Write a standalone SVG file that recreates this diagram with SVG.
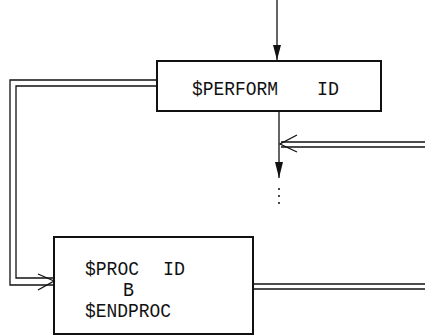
<svg xmlns="http://www.w3.org/2000/svg" width="425" height="336" viewBox="0 0 425 336">
<style>
.box{fill:none;stroke:#111;stroke-width:2}
.ln{fill:none;stroke:#111;stroke-width:1.3}
.t{font-family:"Liberation Mono","DejaVu Sans Mono",monospace;font-size:20px;fill:#111}
</style>
<rect width="425" height="336" fill="#fff"/>
<g id="connectors">
<line class="ln" x1="277" y1="0" x2="277" y2="61"/>
<path d="M273,45 L277,60 L281,45 Z" fill="#111"/>
<line class="ln" x1="279" y1="111" x2="279" y2="178"/>
<path d="M275,162 L279,178 L283,162 Z" fill="#111"/>
<circle cx="279" cy="189" r="1" fill="#111"/>
<circle cx="279" cy="196" r="1" fill="#111"/>
<circle cx="279" cy="203" r="1" fill="#111"/>
<polyline class="ln" points="157,80 10,80 10,285 53,285"/>
<polyline class="ln" points="157,86 16,86 16,278 53,278"/>
<polyline class="ln" points="38,274 54,281 38,290"/>
<line class="ln" x1="425" y1="142" x2="281" y2="142"/>
<line class="ln" x1="425" y1="147" x2="281" y2="147"/>
<polyline class="ln" points="297,135 280,144 297,152"/>
<line class="ln" x1="253" y1="284" x2="425" y2="284"/>
<line class="ln" x1="253" y1="289" x2="425" y2="289"/>
</g>
<g id="perform">
<rect class="box" x="157" y="61" width="224" height="50"/>
<text class="t" x="192" y="95" textLength="86" lengthAdjust="spacingAndGlyphs">$PERFORM</text>
<text class="t" x="317" y="95" textLength="22" lengthAdjust="spacingAndGlyphs">ID</text>
</g>
<g id="proc">
<rect class="box" x="54" y="237" width="199" height="97"/>
<text class="t" x="85" y="275" textLength="54" lengthAdjust="spacingAndGlyphs">$PROC</text>
<text class="t" x="163" y="275" textLength="22" lengthAdjust="spacingAndGlyphs">ID</text>
<text class="t" x="123" y="296" textLength="11" lengthAdjust="spacingAndGlyphs">B</text>
<text class="t" x="85" y="317" textLength="86" lengthAdjust="spacingAndGlyphs">$ENDPROC</text>
</g>
</svg>
